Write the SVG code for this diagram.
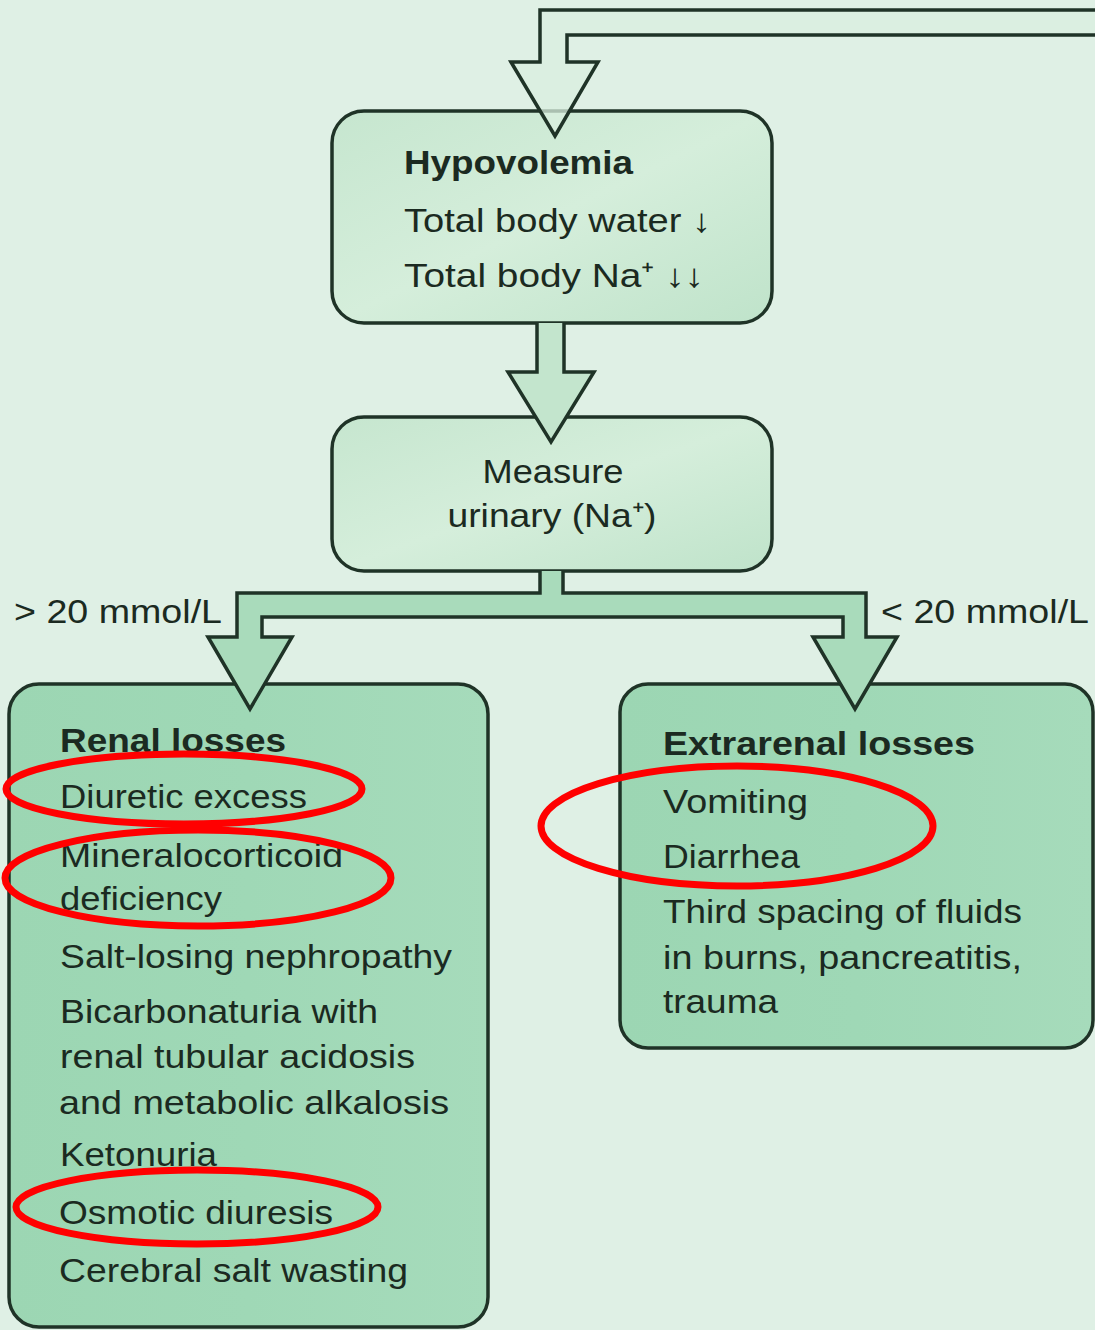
<svg xmlns="http://www.w3.org/2000/svg" width="1095" height="1330" viewBox="0 0 1095 1330">
<style>
.bg{fill:#dff0e5}
.box{stroke:#1f3327;stroke-width:3.5}
.arrow{stroke:#1f3327;stroke-width:3.5;stroke-linejoin:miter}
text{font-family:"Liberation Sans",Arial,Helvetica,sans-serif;fill:#1b2a21;font-size:33px}
.b{font-weight:bold}
.mark{fill:none;stroke:#ff0000;stroke-width:7}
</style>
<defs>
<linearGradient id="gTop" x1="0" y1="0" x2="1" y2="1">
<stop offset="0" stop-color="#c6e6cf"/>
<stop offset="0.5" stop-color="#d5eedb"/>
<stop offset="1" stop-color="#bfe3ca"/>
</linearGradient>
<linearGradient id="gLow" x1="0" y1="0" x2="1" y2="0">
<stop offset="0" stop-color="#9cd6b3"/>
<stop offset="0.5" stop-color="#9fd8b6"/>
<stop offset="1" stop-color="#a6dbbb"/>
</linearGradient>
</defs>
<rect class="bg" x="0" y="0" width="1095" height="1330"/>

<g id="hypovolemia">
<rect class="box" x="332" y="111" width="440" height="212" rx="32" fill="url(#gTop)"/>
<text class="b" x="404" y="174" textLength="229" lengthAdjust="spacingAndGlyphs">Hypovolemia</text>
<text x="404" y="232" textLength="307" lengthAdjust="spacingAndGlyphs">Total body water ↓</text>
<text x="404" y="287" textLength="300" lengthAdjust="spacingAndGlyphs">Total body Na⁺ ↓↓</text>
</g>

<g id="measure">
<rect class="box" x="332" y="417" width="440" height="154" rx="32" fill="url(#gTop)"/>
<text x="553" y="483" text-anchor="middle" textLength="141" lengthAdjust="spacingAndGlyphs">Measure</text>
<text x="552" y="527" text-anchor="middle" textLength="209" lengthAdjust="spacingAndGlyphs">urinary (Na⁺)</text>
</g>

<g id="renal">
<rect class="box" x="9" y="684" width="479" height="643" rx="30" fill="url(#gLow)"/>
<text class="b" x="60" y="752" textLength="226" lengthAdjust="spacingAndGlyphs">Renal losses</text>
<text x="60" y="808" textLength="247" lengthAdjust="spacingAndGlyphs">Diuretic excess</text>
<text x="60" y="867" textLength="283" lengthAdjust="spacingAndGlyphs">Mineralocorticoid</text>
<text x="60" y="910" textLength="162" lengthAdjust="spacingAndGlyphs">deficiency</text>
<text x="60" y="968" textLength="392" lengthAdjust="spacingAndGlyphs">Salt-losing nephropathy</text>
<text x="60" y="1023" textLength="318" lengthAdjust="spacingAndGlyphs">Bicarbonaturia with</text>
<text x="60" y="1068" textLength="355" lengthAdjust="spacingAndGlyphs">renal tubular acidosis</text>
<text x="59" y="1114" textLength="390" lengthAdjust="spacingAndGlyphs">and metabolic alkalosis</text>
<text x="60" y="1166" textLength="157" lengthAdjust="spacingAndGlyphs">Ketonuria</text>
<text x="59" y="1224" textLength="274" lengthAdjust="spacingAndGlyphs">Osmotic diuresis</text>
<text x="59" y="1282" textLength="349" lengthAdjust="spacingAndGlyphs">Cerebral salt wasting</text>
</g>

<g id="extrarenal">
<rect class="box" x="620" y="684" width="473" height="364" rx="28" fill="url(#gLow)"/>
<text class="b" x="663" y="755" textLength="312" lengthAdjust="spacingAndGlyphs">Extrarenal losses</text>
<text x="663" y="813" textLength="145" lengthAdjust="spacingAndGlyphs">Vomiting</text>
<text x="663" y="868" textLength="137" lengthAdjust="spacingAndGlyphs">Diarrhea</text>
<text x="663" y="923" textLength="359" lengthAdjust="spacingAndGlyphs">Third spacing of fluids</text>
<text x="663" y="969" textLength="359" lengthAdjust="spacingAndGlyphs">in burns, pancreatitis,</text>
<text x="663" y="1013" textLength="115" lengthAdjust="spacingAndGlyphs">trauma</text>
</g>

<g id="connectors">
<path class="arrow" fill="#d9efdf" fill-opacity="0.75" d="M1100,10 L540,10 L540,62 L511,62 L555,136 L598,62 L567,62 L567,35 L1100,35"/>
<path class="arrow" fill="#c3e5cd" d="M537,323 L537,372 L508,372 L551,442 L594,372 L564,372 L564,323"/>
<path class="arrow" fill="#a9dbbb" d="M540,571 L540,593 L237,593 L237,637 L208,637 L250,709 L292,637 L262,637 L262,617 L843,617 L843,637 L813,637 L855,709 L897,637 L866,637 L866,593 L563,593 L563,571"/>
<text x="14" y="623" font-size="28" textLength="208" lengthAdjust="spacingAndGlyphs">&gt; 20 mmol/L</text>
<text x="881" y="623" font-size="28" textLength="208" lengthAdjust="spacingAndGlyphs">&lt; 20 mmol/L</text>
</g>

<g id="annotations">
<ellipse class="mark" cx="184" cy="789" rx="178" ry="35"/>
<ellipse class="mark" cx="198" cy="878" rx="193" ry="48"/>
<ellipse class="mark" cx="737" cy="826" rx="196" ry="60"/>
<ellipse class="mark" cx="197" cy="1207" rx="181" ry="37"/>
</g>
</svg>
